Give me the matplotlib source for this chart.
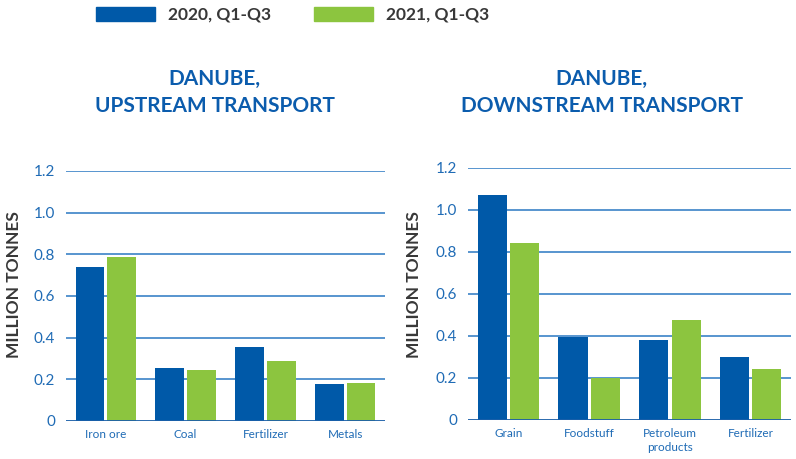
import matplotlib
matplotlib.use("Agg")
import matplotlib.pyplot as plt
import numpy as np
from matplotlib.patches import Patch

plt.rcParams['font.family'] = ['Lato', 'DejaVu Sans']

# data
up_cats = ['Iron ore', 'Coal', 'Fertilizer', 'Metals']
up_2020 = [0.739, 0.254, 0.355, 0.178]
up_2021 = [0.787, 0.245, 0.288, 0.182]

down_cats = ['Grain', 'Foodstuff', 'Petroleum\nproducts', 'Fertilizer']
down_2020 = [1.071, 0.397, 0.381, 0.300]
down_2021 = [0.843, 0.198, 0.476, 0.243]

yticks = [0, 0.2, 0.4, 0.6, 0.8, 1.0, 1.2]
ytick_labels = ['0', '0.2', '0.4', '0.6', '0.8', '1.0', '1.2']
series_names = ['2020, Q1-Q3', '2021, Q1-Q3']

BLUE = '#0059a8'
GREEN = '#8cc53f'
TICK = '#1f6bb5'
GRID = '#2a78c2'
TITLE = '#0b5cad'
GRAY = '#383838'

fig = plt.figure(figsize=(7.96, 4.59), dpi=100)


def draw_panel(ax, cats, v20, v21, title, title_x, label_x):
       x = np.arange(len(cats))
       w = 0.36
       ax.bar(x - 0.2, v20, w, color=BLUE, zorder=3)
       ax.bar(x + 0.2, v21, w, color=GREEN, zorder=3)
       ax.set_xlim(-0.5, len(cats) - 0.5)
       ax.set_ylim(0, 1.2)
       ax.set_yticks(yticks)
       ax.set_yticklabels(ytick_labels, fontsize=11, color=TICK)
       ax.set_xticks(x)
       ax.set_xticklabels(cats, fontsize=8.5, color=TICK, linespacing=1.3)
       ax.tick_params(length=0, pad=8, axis='y')
       ax.tick_params(length=0, pad=6, axis='x')
       for s in ax.spines.values():
              s.set_visible(False)
       for t in yticks[1:]:
              ax.axhline(t, color=GRID, lw=1.1, zorder=1)
       ax.axhline(0, color='#1a5fa8', lw=1.3, zorder=4)
       # axis label sits a bit above the plot's middle in the original
       fig.text(label_x, 1 - 285 / 459, 'MILLION TONNES', rotation=90, ha='center', va='center',
                fontsize=12.5, fontweight='bold', color=GRAY)
       fig.text(title_x, 0.799, title, ha='center', va='center', fontsize=15,
                fontweight='bold', color=TITLE, linespacing=1.45)


ax1 = fig.add_axes([0.0829, 0.0828, 0.4008, 0.5447])
draw_panel(ax1, up_cats, up_2020, up_2021, 'DANUBE,\nUPSTREAM TRANSPORT', 0.270, 14 / 796)

ax2 = fig.add_axes([0.588, 0.085, 0.4058, 0.549])
draw_panel(ax2, down_cats, down_2020, down_2021, 'DANUBE,\nDOWNSTREAM TRANSPORT', 0.756, 414 / 796)

handles = [Patch(color=BLUE), Patch(color=GREEN)]
fig.legend(handles, series_names, loc='center left', bbox_to_anchor=(0.1206, 0.968),
           ncol=2, frameon=False, handlelength=3.4, handleheight=0.9,
           columnspacing=2.5, handletextpad=0.72, borderpad=0, borderaxespad=0,
           prop={'weight': 'bold', 'size': 12.5})
for t in fig.legends[0].get_texts():
       t.set_color(GRAY)

fig.savefig('out.png', dpi=100)
